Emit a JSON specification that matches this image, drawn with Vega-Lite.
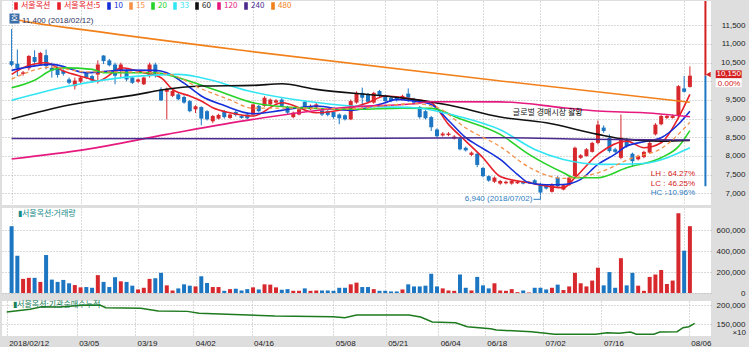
{
 "$schema": "https://vega.github.io/schema/vega-lite/v6.json",
 "background": "#dedede",
 "padding": {"left": 2, "top": 0, "right": 3, "bottom": 0},
 "spacing": 3,
 "config": {
  "view": {"fill": "white", "stroke": null},
  "axis": {"labelFont": "Liberation Sans", "labelFontSize": 8, "labelColor": "#222222", "gridColor": "#b4b4b4", "gridDash": [1, 2], "domain": false, "ticks": false, "labelOverlap": false, "labelFlush": false},
  "text": {"font": "Liberation Sans", "fontSize": 8}
 },
 "datasets": {
  "candles": [
   {"i":0,"o":10540,"h":11400,"l":10400,"c":10440,"v":639000},
   {"i":1,"o":10470,"h":10850,"l":10140,"c":10350,"v":356000},
   {"i":2,"o":10200,"h":10280,"l":10150,"c":10240,"v":135000},
   {"i":3,"o":10350,"h":10700,"l":10290,"c":10680,"v":145000},
   {"i":4,"o":10650,"h":10830,"l":10450,"c":10520,"v":145000},
   {"i":5,"o":10450,"h":10790,"l":10430,"c":10760,"v":106000},
   {"i":6,"o":10700,"h":10850,"l":10320,"c":10410,"v":363000},
   {"i":7,"o":10360,"h":10500,"l":10100,"c":10290,"v":128000},
   {"i":8,"o":10340,"h":10400,"l":10100,"c":10170,"v":106000},
   {"i":9,"o":10280,"h":10320,"l":10150,"c":10200,"v":125000},
   {"i":10,"o":10050,"h":10100,"l":9920,"c":9960,"v":93000},
   {"i":11,"o":9870,"h":10100,"l":9780,"c":10020,"v":76000},
   {"i":12,"o":9990,"h":10140,"l":9950,"c":10100,"v":54000},
   {"i":13,"o":10230,"h":10260,"l":10060,"c":10100,"v":57000},
   {"i":14,"o":10140,"h":10180,"l":9960,"c":10020,"v":50000},
   {"i":15,"o":10180,"h":10560,"l":9940,"c":10450,"v":171000},
   {"i":16,"o":10690,"h":10700,"l":10460,"c":10540,"v":106000},
   {"i":17,"o":10560,"h":10600,"l":10400,"c":10430,"v":57000},
   {"i":18,"o":10450,"h":10500,"l":9920,"c":10150,"v":151000},
   {"i":19,"o":10290,"h":10500,"l":10100,"c":10450,"v":112000},
   {"i":20,"o":10290,"h":10320,"l":10000,"c":10050,"v":106000},
   {"i":21,"o":10100,"h":10140,"l":9930,"c":9960,"v":70000},
   {"i":22,"o":9990,"h":10080,"l":9960,"c":10050,"v":34000},
   {"i":23,"o":9920,"h":10130,"l":9900,"c":10100,"v":50000},
   {"i":24,"o":10140,"h":10500,"l":10100,"c":10450,"v":135000},
   {"i":25,"o":10450,"h":10500,"l":10100,"c":10190,"v":141000},
   {"i":26,"o":9780,"h":9840,"l":9470,"c":9490,"v":193000},
   {"i":27,"o":9720,"h":9830,"l":8980,"c":9800,"v":73000},
   {"i":28,"o":9610,"h":9780,"l":9580,"c":9740,"v":24000},
   {"i":29,"o":9650,"h":9700,"l":9490,"c":9520,"v":44000},
   {"i":30,"o":9580,"h":9620,"l":9400,"c":9430,"v":83000},
   {"i":31,"o":9470,"h":9500,"l":9170,"c":9200,"v":70000},
   {"i":32,"o":9250,"h":9360,"l":9150,"c":9330,"v":63000},
   {"i":33,"o":9310,"h":9330,"l":8820,"c":9000,"v":160000},
   {"i":34,"o":9200,"h":9230,"l":8950,"c":8980,"v":96000},
   {"i":35,"o":8930,"h":9100,"l":8880,"c":9070,"v":57000},
   {"i":36,"o":9000,"h":9130,"l":8980,"c":9100,"v":57000},
   {"i":37,"o":9200,"h":9230,"l":9000,"c":9040,"v":21000},
   {"i":38,"o":9020,"h":9140,"l":8990,"c":9110,"v":37000},
   {"i":39,"o":9180,"h":9210,"l":9060,"c":9100,"v":41000},
   {"i":40,"o":9070,"h":9100,"l":9000,"c":9020,"v":24000},
   {"i":41,"o":9110,"h":9140,"l":8980,"c":9010,"v":37000},
   {"i":42,"o":9110,"h":9400,"l":9090,"c":9380,"v":54000},
   {"i":43,"o":9340,"h":9370,"l":9170,"c":9200,"v":34000},
   {"i":44,"o":9340,"h":9600,"l":9320,"c":9560,"v":83000},
   {"i":45,"o":9380,"h":9540,"l":9350,"c":9510,"v":80000},
   {"i":46,"o":9430,"h":9520,"l":9400,"c":9490,"v":54000},
   {"i":47,"o":9510,"h":9560,"l":9320,"c":9340,"v":31000},
   {"i":48,"o":9310,"h":9340,"l":9130,"c":9160,"v":37000},
   {"i":49,"o":9040,"h":9190,"l":9010,"c":9160,"v":21000},
   {"i":50,"o":9110,"h":9280,"l":9090,"c":9250,"v":21000},
   {"i":51,"o":9450,"h":9480,"l":9250,"c":9270,"v":44000},
   {"i":52,"o":9250,"h":9380,"l":9230,"c":9340,"v":21000},
   {"i":53,"o":9300,"h":9420,"l":9280,"c":9380,"v":24000},
   {"i":54,"o":9220,"h":9290,"l":9070,"c":9110,"v":24000},
   {"i":55,"o":9200,"h":9230,"l":9060,"c":9100,"v":24000},
   {"i":56,"o":9180,"h":9200,"l":9000,"c":9040,"v":21000},
   {"i":57,"o":9110,"h":9140,"l":8850,"c":9010,"v":50000},
   {"i":58,"o":9090,"h":9120,"l":8950,"c":8980,"v":50000},
   {"i":59,"o":8980,"h":9510,"l":8960,"c":9470,"v":83000},
   {"i":60,"o":9430,"h":9730,"l":9400,"c":9690,"v":99000},
   {"i":61,"o":9690,"h":9830,"l":9290,"c":9560,"v":57000},
   {"i":62,"o":9650,"h":9690,"l":9420,"c":9450,"v":57000},
   {"i":63,"o":9430,"h":9720,"l":9400,"c":9690,"v":37000},
   {"i":64,"o":9740,"h":9770,"l":9580,"c":9610,"v":21000},
   {"i":65,"o":9610,"h":9640,"l":9440,"c":9470,"v":21000},
   {"i":66,"o":9560,"h":9600,"l":9440,"c":9470,"v":15000},
   {"i":67,"o":9560,"h":9590,"l":9460,"c":9490,"v":15000},
   {"i":68,"o":9520,"h":9640,"l":9500,"c":9610,"v":34000},
   {"i":69,"o":9670,"h":9810,"l":9450,"c":9560,"v":83000},
   {"i":70,"o":9520,"h":9560,"l":9380,"c":9430,"v":63000},
   {"i":71,"o":9310,"h":9340,"l":9000,"c":9040,"v":63000},
   {"i":72,"o":9200,"h":9230,"l":8980,"c":9010,"v":70000},
   {"i":73,"o":9040,"h":9070,"l":8670,"c":8770,"v":184000},
   {"i":74,"o":8710,"h":8740,"l":8500,"c":8530,"v":63000},
   {"i":75,"o":8550,"h":8640,"l":8520,"c":8600,"v":44000},
   {"i":76,"o":8560,"h":8640,"l":8530,"c":8600,"v":24000},
   {"i":77,"o":8470,"h":8560,"l":8440,"c":8520,"v":21000},
   {"i":78,"o":8470,"h":8500,"l":8150,"c":8180,"v":177000},
   {"i":79,"o":8220,"h":8250,"l":8120,"c":8150,"v":50000},
   {"i":80,"o":8030,"h":8120,"l":8000,"c":8090,"v":24000},
   {"i":81,"o":8060,"h":8090,"l":7700,"c":7760,"v":154000},
   {"i":82,"o":7680,"h":7700,"l":7430,"c":7460,"v":73000},
   {"i":83,"o":7460,"h":7480,"l":7310,"c":7340,"v":44000},
   {"i":84,"o":7310,"h":7450,"l":7280,"c":7420,"v":93000},
   {"i":85,"o":7260,"h":7360,"l":7230,"c":7330,"v":24000},
   {"i":86,"o":7270,"h":7340,"l":7240,"c":7310,"v":21000},
   {"i":87,"o":7260,"h":7350,"l":7230,"c":7330,"v":37000},
   {"i":88,"o":7270,"h":7340,"l":7250,"c":7310,"v":8000},
   {"i":89,"o":7310,"h":7340,"l":7240,"c":7260,"v":24000},
   {"i":90,"o":7280,"h":7330,"l":7260,"c":7310,"v":5000},
   {"i":91,"o":7350,"h":7380,"l":7240,"c":7260,"v":50000},
   {"i":92,"o":7240,"h":7280,"l":6940,"c":7020,"v":50000},
   {"i":93,"o":7220,"h":7250,"l":7100,"c":7130,"v":34000},
   {"i":94,"o":7040,"h":7270,"l":7020,"c":7240,"v":50000},
   {"i":95,"o":7420,"h":7460,"l":7150,"c":7190,"v":80000},
   {"i":96,"o":7100,"h":7250,"l":7080,"c":7220,"v":28000},
   {"i":97,"o":7220,"h":7450,"l":7200,"c":7420,"v":63000},
   {"i":98,"o":7460,"h":8250,"l":7440,"c":8220,"v":193000},
   {"i":99,"o":7950,"h":8050,"l":7920,"c":8020,"v":93000},
   {"i":100,"o":8000,"h":8210,"l":7980,"c":8180,"v":63000},
   {"i":101,"o":8110,"h":8380,"l":8090,"c":8350,"v":119000},
   {"i":102,"o":8350,"h":8950,"l":8310,"c":8840,"v":242000},
   {"i":103,"o":8760,"h":8820,"l":8620,"c":8670,"v":73000},
   {"i":104,"o":8490,"h":8580,"l":8090,"c":8130,"v":200000},
   {"i":105,"o":8180,"h":8220,"l":8080,"c":8110,"v":50000},
   {"i":106,"o":7950,"h":9110,"l":7910,"c":8490,"v":333000},
   {"i":107,"o":8440,"h":8480,"l":8220,"c":8260,"v":73000},
   {"i":108,"o":8060,"h":8090,"l":7730,"c":7860,"v":193000},
   {"i":109,"o":7910,"h":8030,"l":7880,"c":8000,"v":70000},
   {"i":110,"o":7970,"h":8140,"l":7940,"c":8110,"v":21000},
   {"i":111,"o":8090,"h":8390,"l":8060,"c":8350,"v":154000},
   {"i":112,"o":8580,"h":8880,"l":8550,"c":8840,"v":177000},
   {"i":113,"o":8850,"h":9110,"l":8820,"c":9070,"v":220000},
   {"i":114,"o":9020,"h":9110,"l":8990,"c":9070,"v":86000},
   {"i":115,"o":9020,"h":9110,"l":9000,"c":9070,"v":119000},
   {"i":116,"o":9070,"h":9900,"l":9040,"c":9870,"v":763000},
   {"i":117,"o":9810,"h":10140,"l":9700,"c":9720,"v":405000},
   {"i":118,"o":9850,"h":10400,"l":9830,"c":10150,"v":639000}
  ],
  "ma": [
   {"m":"서울옥션:5","i":0,"v":10185},{"m":"서울옥션:5","i":2,"v":10364},{"m":"서울옥션:5","i":6,"v":10498},{"m":"서울옥션:5","i":9,"v":10275},{"m":"서울옥션:5","i":13,"v":10096},{"m":"서울옥션:5","i":15,"v":10007},{"m":"서울옥션:5","i":18,"v":10275},{"m":"서울옥션:5","i":19,"v":10364},{"m":"서울옥션:5","i":23,"v":10230},{"m":"서울옥션:5","i":26,"v":10096},{"m":"서울옥션:5","i":28,"v":9783},{"m":"서울옥션:5","i":31,"v":9605},{"m":"서울옥션:5","i":33,"v":9471},{"m":"서울옥션:5","i":35,"v":9292},{"m":"서울옥션:5","i":38,"v":9158},{"m":"서울옥션:5","i":42,"v":9069},{"m":"서울옥션:5","i":47,"v":9426},{"m":"서울옥션:5","i":53,"v":9158},{"m":"서울옥션:5","i":59,"v":9292},{"m":"서울옥션:5","i":62,"v":9426},{"m":"서울옥션:5","i":65,"v":9605},{"m":"서울옥션:5","i":70,"v":9515},{"m":"서울옥션:5","i":73,"v":9426},{"m":"서울옥션:5","i":76,"v":8846},{"m":"서울옥션:5","i":79,"v":8399},{"m":"서울옥션:5","i":82,"v":7953},{"m":"서울옥션:5","i":85,"v":7450},{"m":"서울옥션:5","i":90,"v":7283},{"m":"서울옥션:5","i":96,"v":7150},{"m":"서울옥션:5","i":98,"v":7417},{"m":"서울옥션:5","i":102,"v":8042},{"m":"서울옥션:5","i":107,"v":8399},{"m":"서울옥션:5","i":110,"v":8221},{"m":"서울옥션:5","i":113,"v":8355},{"m":"서울옥션:5","i":116,"v":9024},{"m":"서울옥션:5","i":118,"v":9650},
   {"m":"10","i":0,"v":10292},{"m":"10","i":7,"v":10453},{"m":"10","i":13,"v":10230},{"m":"10","i":20,"v":10300},{"m":"10","i":25,"v":10292},{"m":"10","i":27,"v":10230},{"m":"10","i":30,"v":9950},{"m":"10","i":33,"v":9605},{"m":"10","i":37,"v":9350},{"m":"10","i":42,"v":9131},{"m":"10","i":47,"v":9221},{"m":"10","i":53,"v":9337},{"m":"10","i":59,"v":9221},{"m":"10","i":65,"v":9426},{"m":"10","i":67,"v":9515},{"m":"10","i":70,"v":9471},{"m":"10","i":73,"v":9381},{"m":"10","i":76,"v":8950},{"m":"10","i":79,"v":8489},{"m":"10","i":82,"v":8200},{"m":"10","i":85,"v":7908},{"m":"10","i":88,"v":7506},{"m":"10","i":90,"v":7283},{"m":"10","i":93,"v":7230},{"m":"10","i":96,"v":7238},{"m":"10","i":99,"v":7372},{"m":"10","i":102,"v":7774},{"m":"10","i":105,"v":8050},{"m":"10","i":107,"v":8265},{"m":"10","i":110,"v":8380},{"m":"10","i":113,"v":8489},{"m":"10","i":116,"v":8850},{"m":"10","i":118,"v":9200},
   {"m":"15","i":0,"v":10060},{"m":"15","i":7,"v":10380},{"m":"15","i":13,"v":10250},{"m":"15","i":20,"v":10250},{"m":"15","i":27,"v":10200},{"m":"15","i":33,"v":9800},{"m":"15","i":38,"v":9500},{"m":"15","i":42,"v":9280},{"m":"15","i":50,"v":9280},{"m":"15","i":59,"v":9260},{"m":"15","i":65,"v":9350},{"m":"15","i":70,"v":9400},{"m":"15","i":74,"v":9300},{"m":"15","i":79,"v":8750},{"m":"15","i":85,"v":8250},{"m":"15","i":90,"v":7700},{"m":"15","i":96,"v":7400},{"m":"15","i":102,"v":7550},{"m":"15","i":108,"v":7950},{"m":"15","i":113,"v":8200},{"m":"15","i":118,"v":8900},
   {"m":"20","i":0,"v":9828},{"m":"20","i":4,"v":10030},{"m":"20","i":7,"v":10300},{"m":"20","i":9,"v":10360},{"m":"20","i":14,"v":10320},{"m":"20","i":16,"v":10230},{"m":"20","i":25,"v":10230},{"m":"20","i":28,"v":10140},{"m":"20","i":31,"v":10000},{"m":"20","i":36,"v":9740},{"m":"20","i":42,"v":9426},{"m":"20","i":50,"v":9292},{"m":"20","i":60,"v":9250},{"m":"20","i":68,"v":9280},{"m":"20","i":73,"v":9274},{"m":"20","i":78,"v":9000},{"m":"20","i":85,"v":8578},{"m":"20","i":90,"v":8042},{"m":"20","i":96,"v":7551},{"m":"20","i":98,"v":7417},{"m":"20","i":102,"v":7417},{"m":"20","i":107,"v":7685},{"m":"20","i":113,"v":7953},{"m":"20","i":116,"v":8250},{"m":"20","i":118,"v":8680},
   {"m":"33","i":0,"v":9489},{"m":"33","i":10,"v":9873},{"m":"33","i":22,"v":10140},{"m":"33","i":29,"v":10185},{"m":"33","i":33,"v":10096},{"m":"33","i":42,"v":9712},{"m":"33","i":51,"v":9471},{"m":"33","i":59,"v":9337},{"m":"33","i":70,"v":9292},{"m":"33","i":78,"v":9050},{"m":"33","i":85,"v":8700},{"m":"33","i":91,"v":8176},{"m":"33","i":96,"v":7908},{"m":"33","i":103,"v":7774},{"m":"33","i":109,"v":7790},{"m":"33","i":113,"v":7900},{"m":"33","i":116,"v":8080},{"m":"33","i":118,"v":8221},
   {"m":"60","i":0,"v":8990},{"m":"60","i":10,"v":9364},{"m":"60","i":22,"v":9650},{"m":"60","i":26,"v":9766},{"m":"60","i":33,"v":9873},{"m":"60","i":42,"v":9890},{"m":"60","i":47,"v":9935},{"m":"60","i":53,"v":9783},{"m":"60","i":65,"v":9605},{"m":"60","i":70,"v":9515},{"m":"60","i":76,"v":9364},{"m":"60","i":85,"v":9042},{"m":"60","i":93,"v":8890},{"m":"60","i":102,"v":8578},{"m":"60","i":107,"v":8444},{"m":"60","i":113,"v":8399},{"m":"60","i":118,"v":8417},
   {"m":"120","i":0,"v":7920},{"m":"120","i":13,"v":8176},{"m":"120","i":27,"v":8578},{"m":"120","i":42,"v":8980},{"m":"120","i":59,"v":9310},{"m":"120","i":70,"v":9400},{"m":"120","i":73,"v":9453},{"m":"120","i":85,"v":9450},{"m":"120","i":96,"v":9292},{"m":"120","i":102,"v":9203},{"m":"120","i":110,"v":9158},{"m":"120","i":118,"v":9050},
   {"m":"240","i":0,"v":8470},{"m":"240","i":42,"v":8460},{"m":"240","i":85,"v":8490},{"m":"240","i":100,"v":8450},{"m":"240","i":118,"v":8430},
   {"m":"480","i":0,"v":11680},{"m":"480","i":2,"v":11614},{"m":"480","i":13,"v":11370},{"m":"480","i":42,"v":10792},{"m":"480","i":85,"v":10010},{"m":"480","i":118,"v":9440}
  ],
  "inst": [
   {"i":0,"v":182400},{"i":4,"v":189500},{"i":6,"v":196000},{"i":9,"v":195500},{"i":13,"v":200000},{"i":16,"v":200800},{"i":17,"v":193700},{"i":23,"v":192000},{"i":26,"v":185000},{"i":31,"v":184000},{"i":33,"v":179000},{"i":39,"v":176000},{"i":46,"v":171800},{"i":56,"v":170000},{"i":58,"v":167400},{"i":60,"v":174500},{"i":69,"v":174500},{"i":71,"v":169000},{"i":73,"v":156000},{"i":77,"v":154000},{"i":79,"v":143700},{"i":83,"v":138400},{"i":84,"v":135000},{"i":90,"v":130500},{"i":94,"v":123700},{"i":101,"v":123700},{"i":103,"v":128000},{"i":105,"v":126300},{"i":107,"v":129700},{"i":108,"v":123700},{"i":111,"v":123700},{"i":112,"v":129700},{"i":115,"v":130500},{"i":116,"v":141000},{"i":117,"v":143700},{"i":118,"v":152600}
  ],
  "notesLeft": [
   {"i":1.8,"p":11614,"t":"11,400  (2018/02/12)","k":"navy"},
   {"i":111.2,"p":7508,"t":"LH :","k":"red"},
   {"i":111.2,"p":7257,"t":"LC :","k":"red"},
   {"i":111.2,"p":7008,"t":"HC :","k":"blue"}
  ],
  "notesRight": [
   {"i":90.6,"p":6839,"t":"6,940  (2018/07/02)","k":"blue"},
   {"i":118.9,"p":7508,"t":"64.27%","k":"red"},
   {"i":118.9,"p":7257,"t":"46.25%","k":"red"},
   {"i":118.9,"p":7008,"t":"-10.96%","k":"blue"},
   {"i":126.8,"p":9930,"t":"0.00%","k":"red"}
  ]
 },
 "vconcat": [
  {
   "width": 709, "height": 204,
   "encoding": {"x": {"field": "i", "type": "quantitative", "title": null, "scale": {"domain": [-0.8, 120.8], "nice": false, "zero": false}, "axis": {"values": [0,12,22,32,42,56,65,74,82,92,102,117], "labels": false, "grid": true}}},
   "layer": [
    {"data": {"name": "candles"}, "mark": {"type": "rule", "strokeWidth": 1},
     "encoding": {"y": {"field": "l", "type": "quantitative", "title": null, "scale": {"domain": [6687, 12151], "nice": false, "zero": false}, "axis": {"orient": "right", "values": [7000,7500,8000,8500,9000,9500,10000,10500,11000,11500], "labelExpr": "datum.value == 10000 ? '' : format(datum.value, ',')", "labelAlign": "right", "labelPadding": 34, "grid": true, "labelOverlap": false}},
      "y2": {"field": "h"},
      "color": {"condition": {"test": "datum.c >= datum.o", "value": "#d7282e"}, "value": "#1c76c2"}}},
    {"data": {"name": "candles"}, "mark": {"type": "bar", "size": 4},
     "encoding": {"y": {"field": "o", "type": "quantitative", "title": null, "axis": {"orient": "right", "values": [7000,7500,8000,8500,9000,9500,10000,10500,11000,11500], "labelExpr": "datum.value == 10000 ? '' : format(datum.value, ',')", "labelAlign": "right", "labelPadding": 34, "grid": true, "labelOverlap": false}}, "y2": {"field": "c"},
      "color": {"condition": {"test": "datum.c >= datum.o", "value": "#d7282e"}, "value": "#1c76c2"}}},
    {"data": {"name": "ma"}, "transform": [{"filter": "datum.m !== '15'"}], "mark": {"type": "line", "strokeWidth": 1.6, "interpolate": "monotone"},
     "encoding": {"y": {"field": "v", "type": "quantitative", "title": null, "axis": {"orient": "right", "values": [7000,7500,8000,8500,9000,9500,10000,10500,11000,11500], "labelExpr": "datum.value == 10000 ? '' : format(datum.value, ',')", "labelAlign": "right", "labelPadding": 34, "grid": true, "labelOverlap": false}},
      "color": {"field": "m", "type": "nominal", "sort": null,
       "scale": {"domain": ["서울옥션", "서울옥션:5", "10", "15", "20", "33", "60", "120", "240", "480"], "range": ["#e8202a", "#e8202a", "#1530d8", "#f5914a", "#28d228", "#33e5f2", "#111111", "#e6197f", "#4b2a8e", "#f28019"]},
       "legend": {"orient": "none", "legendX": 10, "legendY": 1, "direction": "horizontal", "title": null, "columnPadding": 3, "labelOffset": 1, "padding": 0, "symbolType": "M-0.35,-1V1H0.35V-1Z", "symbolSize": 36, "labelFont": "Noto Sans CJK KR", "labelFontSize": 8,
        "encode": {"labels": {"update": {"fill": {"signal": "scale('color', datum.value)"}}}, "symbols": {"update": {"fill": {"signal": "scale('color', datum.value)"}, "stroke": {"value": "transparent"}, "opacity": {"value": 1}}}}}}}},
    {"data": {"name": "ma"}, "transform": [{"filter": "datum.m === '15'"}], "mark": {"type": "line", "strokeWidth": 1.3, "interpolate": "monotone", "strokeDash": [4, 3]},
     "encoding": {"y": {"field": "v", "type": "quantitative", "title": null, "axis": {"orient": "right", "values": [7000,7500,8000,8500,9000,9500,10000,10500,11000,11500], "labelExpr": "datum.value == 10000 ? '' : format(datum.value, ',')", "labelAlign": "right", "labelPadding": 34, "grid": true, "labelOverlap": false}}, "color": {"field": "m", "type": "nominal"}}},
    {"data": {"values": [{"i": 120.7, "i2": 120.7, "a": 12151, "b": 10150, "k": "red"}, {"i": 120.7, "i2": 120.7, "a": 10150, "b": 7190, "k": "blue"}, {"i": 90.8, "i2": 92, "a": 6839, "b": 6839, "k": "note"}, {"i": 92, "i2": 92, "a": 6839, "b": 6930, "k": "note"}]},
     "mark": {"type": "rule"},
     "encoding": {"x2": {"field": "i2"}, "y": {"field": "a", "type": "quantitative", "title": null, "axis": {"orient": "right", "values": [7000,7500,8000,8500,9000,9500,10000,10500,11000,11500], "labelExpr": "datum.value == 10000 ? '' : format(datum.value, ',')", "labelAlign": "right", "labelPadding": 34, "grid": true, "labelOverlap": false}}, "y2": {"field": "b"},
      "strokeWidth": {"condition": {"test": "datum.k !== 'note'", "value": 2}, "value": 1},
      "stroke": {"condition": [{"test": "datum.k === 'red'", "value": "#d42020"}, {"test": "datum.k === 'blue'", "value": "#1c76c2"}], "value": "#2e7cc0"}}},
    {"data": {"values": [{"i": 122.5, "i2": 127.0, "a": 10080, "b": 10294, "k": "red"}, {"i": 122.5, "i2": 127.0, "a": 9843, "b": 10080, "k": "white"}]}, "mark": {"type": "rect"},
     "encoding": {"x2": {"field": "i2"}, "y": {"field": "a", "type": "quantitative", "title": null, "axis": {"orient": "right", "values": [7000,7500,8000,8500,9000,9500,10000,10500,11000,11500], "labelExpr": "datum.value == 10000 ? '' : format(datum.value, ',')", "labelAlign": "right", "labelPadding": 34, "grid": true, "labelOverlap": false}}, "y2": {"field": "b"},
      "fill": {"condition": {"test": "datum.k === 'red'", "value": "#d42020"}, "value": "#ffffff"}}},
    {"data": {"values": [{"i": 121.2, "p": 10185, "k": "tri"}, {"i": 0.5, "p": 11681, "k": "sq"}]}, "mark": {"type": "point", "filled": true, "opacity": 1},
     "encoding": {"y": {"field": "p", "type": "quantitative", "title": null, "axis": {"orient": "right", "values": [7000,7500,8000,8500,9000,9500,10000,10500,11000,11500], "labelExpr": "datum.value == 10000 ? '' : format(datum.value, ',')", "labelAlign": "right", "labelPadding": 34, "grid": true, "labelOverlap": false}},
      "shape": {"condition": {"test": "datum.k === 'tri'", "value": "triangle-left"}, "value": "square"},
      "size": {"condition": {"test": "datum.k === 'tri'", "value": 30}, "value": 100},
      "fill": {"condition": {"test": "datum.k === 'tri'", "value": "#d42020"}, "value": "#3f6fa8"}}},
    {"data": {"values": [{"i": 124.75, "p": 10187, "t": "10,150"}]}, "mark": {"type": "text", "align": "center", "baseline": "middle", "color": "#ffffff", "font": "Liberation Sans", "fontSize": 8},
     "encoding": {"y": {"field": "p", "type": "quantitative", "title": null, "axis": {"orient": "right", "values": [7000,7500,8000,8500,9000,9500,10000,10500,11000,11500], "labelExpr": "datum.value == 10000 ? '' : format(datum.value, ',')", "labelAlign": "right", "labelPadding": 34, "grid": true, "labelOverlap": false}}, "text": {"field": "t"}}},
    {"data": {"values": [{"i": 0.5, "p": 11681, "t": "호"}]}, "mark": {"type": "text", "align": "center", "baseline": "middle", "color": "#ffffff", "font": "Noto Sans CJK KR", "fontSize": 8},
     "encoding": {"y": {"field": "p", "type": "quantitative", "title": null, "axis": {"orient": "right", "values": [7000,7500,8000,8500,9000,9500,10000,10500,11000,11500], "labelExpr": "datum.value == 10000 ? '' : format(datum.value, ',')", "labelAlign": "right", "labelPadding": 34, "grid": true, "labelOverlap": false}}, "text": {"field": "t"}}},
    {"data": {"values": [{"i": 87.2, "p": 9158, "t": "글로벌 경매시장 활황"}]}, "mark": {"type": "text", "align": "left", "baseline": "middle", "color": "#111111", "font": "Noto Sans CJK KR", "fontSize": 8},
     "encoding": {"y": {"field": "p", "type": "quantitative", "title": null, "axis": {"orient": "right", "values": [7000,7500,8000,8500,9000,9500,10000,10500,11000,11500], "labelExpr": "datum.value == 10000 ? '' : format(datum.value, ',')", "labelAlign": "right", "labelPadding": 34, "grid": true, "labelOverlap": false}}, "text": {"field": "t"}}},
    {"data": {"name": "notesLeft"}, "mark": {"type": "text", "align": "left", "baseline": "middle", "font": "Liberation Sans", "fontSize": 8},
     "encoding": {"y": {"field": "p", "type": "quantitative", "title": null, "axis": {"orient": "right", "values": [7000,7500,8000,8500,9000,9500,10000,10500,11000,11500], "labelExpr": "datum.value == 10000 ? '' : format(datum.value, ',')", "labelAlign": "right", "labelPadding": 34, "grid": true, "labelOverlap": false}}, "text": {"field": "t"},
      "fill": {"condition": [{"test": "datum.k === 'red'", "value": "#d42020"}, {"test": "datum.k === 'blue'", "value": "#2e7cc0"}], "value": "#2d3560"}}},
    {"data": {"name": "notesRight"}, "mark": {"type": "text", "align": "right", "baseline": "middle", "font": "Liberation Sans", "fontSize": 8},
     "encoding": {"y": {"field": "p", "type": "quantitative", "title": null, "axis": {"orient": "right", "values": [7000,7500,8000,8500,9000,9500,10000,10500,11000,11500], "labelExpr": "datum.value == 10000 ? '' : format(datum.value, ',')", "labelAlign": "right", "labelPadding": 34, "grid": true, "labelOverlap": false}}, "text": {"field": "t"},
      "fill": {"condition": {"test": "datum.k === 'red'", "value": "#d42020"}, "value": "#2e7cc0"}}}
   ]
  },
  {
   "width": 709, "height": 85,
   "encoding": {"x": {"field": "i", "type": "quantitative", "title": null, "scale": {"domain": [-0.8, 120.8], "nice": false, "zero": false}, "axis": {"values": [0,12,22,32,42,56,65,74,82,92,102,117], "labels": false, "grid": true}}},
   "layer": [
    {"data": {"name": "candles"}, "mark": {"type": "bar", "size": 4},
     "encoding": {"y": {"field": "v", "type": "quantitative", "title": null, "scale": {"domain": [0, 813000], "nice": false}, "axis": {"orient": "right", "values": [0, 200000, 400000, 600000], "format": ",d", "labelAlign": "right", "labelPadding": 34, "grid": true, "labelOverlap": false}},
      "color": {"condition": {"test": "datum.c >= datum.o", "value": "#d7282e"}, "value": "#1c76c2"}}},
    {"data": {"values": [{"i": 1.1, "v": 756000, "t": "▮서울옥션:거래량"}]}, "mark": {"type": "text", "align": "left", "baseline": "middle", "color": "#178a8a", "font": "Noto Sans CJK KR", "fontSize": 8},
     "encoding": {"y": {"field": "v", "type": "quantitative", "title": null, "axis": {"orient": "right", "values": [0, 200000, 400000, 600000], "format": ",d", "labelAlign": "right", "labelPadding": 34, "grid": true, "labelOverlap": false}}, "text": {"field": "t"}}}
   ]
  },
  {
   "width": 709, "height": 35,
   "encoding": {"x": {"field": "i", "type": "quantitative", "title": null, "scale": {"domain": [-0.8, 120.8], "nice": false, "zero": false},
     "axis": {"orient": "bottom", "values": [0,12,22,32,42,56,65,74,82,92,102,117], "grid": true, "labelAlign": "left", "labelOffset": 2, "labelPadding": 3, "labelOverlap": false, "labelFlush": false, "labelBound": false,
      "labelExpr": "datum.value==0?'2018/02/12':datum.value==12?'03/05':datum.value==22?'03/19':datum.value==32?'04/02':datum.value==42?'04/16':datum.value==56?'05/08':datum.value==65?'05/21':datum.value==74?'06/04':datum.value==82?'06/18':datum.value==92?'07/02':datum.value==102?'07/16':'08/06'"}}},
   "layer": [
    {"data": {"name": "inst"}, "mark": {"type": "line", "color": "#1e7a1e", "strokeWidth": 1.5},
     "encoding": {"y": {"field": "v", "type": "quantitative", "title": null, "scale": {"domain": [119200, 211300], "nice": false, "zero": false}, "axis": {"orient": "right", "values": [150000, 200000], "format": ",d", "labelAlign": "right", "labelPadding": 34, "grid": true, "labelOverlap": false}}}},
    {"data": {"values": [{"i": 1.1, "v": 201000, "t": "▮서울옥션:기관순매수누적"}]}, "mark": {"type": "text", "align": "left", "baseline": "middle", "color": "#1a7f5a", "font": "Noto Sans CJK KR", "fontSize": 8},
     "encoding": {"y": {"field": "v", "type": "quantitative", "title": null, "axis": {"orient": "right", "values": [150000, 200000], "format": ",d", "labelAlign": "right", "labelPadding": 34, "grid": true, "labelOverlap": false}}, "text": {"field": "t"}}},
    {"data": {"values": [{"i": 126.8, "v": 128400, "t": "×10"}]}, "mark": {"type": "text", "align": "right", "baseline": "middle", "color": "#222222", "font": "Liberation Sans", "fontSize": 8},
     "encoding": {"y": {"field": "v", "type": "quantitative", "title": null, "axis": {"orient": "right", "values": [150000, 200000], "format": ",d", "labelAlign": "right", "labelPadding": 34, "grid": true, "labelOverlap": false}}, "text": {"field": "t"}}}
   ]
  }
 ]
}
